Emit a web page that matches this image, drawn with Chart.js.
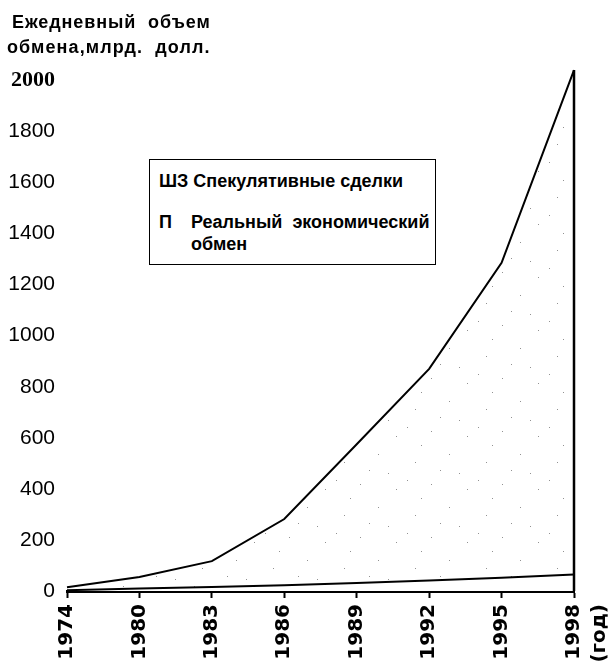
<!DOCTYPE html>
<html>
<head>
<meta charset="utf-8">
<script src="https://cdn.jsdelivr.net/npm/chart.js@4"></script>
<style>
  html, body { margin: 0; padding: 0; background: #fff; }
  #wrap { position: relative; width: 613px; height: 667px; overflow: hidden; }
  canvas { position: absolute; left: 0; top: 0; }
  .t { position: absolute; font-family: "Liberation Sans", Arial, sans-serif; font-weight: bold; font-size: 18px; line-height: 18px; color: #000; white-space: pre; }
  #legend { position: absolute; left: 149px; top: 159px; width: 285px; height: 104px; border: 1.5px solid #000; background: #fff; }
  .l { position: absolute; font-family: "Liberation Sans", Arial, sans-serif; font-weight: bold; font-size: 18px; line-height: 18px; color: #000; white-space: pre; letter-spacing: 0px; }
</style>
</head>
<body>
<div id="wrap">
  <canvas id="c" width="613" height="667"></canvas>
  <div class="t" style="left:12px; top:13px; letter-spacing:0.9px;">Ежедневный  объем</div>
  <div class="t" style="left:7px; top:38px; letter-spacing:1.1px;">обмена,млрд.  долл.</div>
  <div id="legend">
    <div class="l" style="left:9px; top:12px;">ШЗ Спекулятивные сделки</div>
    <div class="l" style="left:9px; top:53px;">П</div>
    <div class="l" style="left:41px; top:53px;">Реальный  экономический</div>
    <div class="l" style="left:41px; top:75px;">обмен</div>
  </div>
</div>
<script>
const years = ['1974', '1980', '1983', '1986', '1989', '1992', '1995', ['1998', '(год)']];
const speculative = [15, 55, 117, 282, 575, 870, 1285, 2040];
const realExchange = [3, 10, 16, 23, 31, 41, 52, 65];
const yTicksMax = 2000;

// sparse, irregular dot pattern for the speculative area
function makePattern() {
  const p = document.createElement('canvas');
  p.width = 71; p.height = 53;
  const g = p.getContext('2d');
  g.fillStyle = 'rgba(110,110,110,0.75)';
  const dots = [[5,7],[41,12],[23,30],[60,38],[14,46],[52,3],[33,49],[66,21]];
  dots.forEach(d => g.fillRect(d[0], d[1], 1, 1));
  return document.getElementById('c').getContext('2d').createPattern(p, 'repeat');
}

const edgePlugin = {
  id: 'edge',
  afterDatasetsDraw(chart) {
    const x = chart.scales.x, y = chart.scales.y;
    const i = years.length - 1;
    const ctx = chart.ctx;
    ctx.save();
    ctx.strokeStyle = '#000';
    ctx.lineWidth = 2.5;
    ctx.beginPath();
    ctx.moveTo(x.getPixelForValue(i), y.getPixelForValue(0));
    ctx.lineTo(x.getPixelForValue(i), y.getPixelForValue(speculative[i]));
    ctx.stroke();
    ctx.restore();
  }
};

new Chart(document.getElementById('c'), {
  type: 'line',
  data: {
    labels: years,
    datasets: [
      {
        label: 'Реальный экономический обмен',
        data: realExchange,
        borderColor: '#000',
        borderWidth: 2,
        pointRadius: 0,
        tension: 0,
        fill: 'origin',
        backgroundColor: '#fff'
      },
      {
        label: 'Спекулятивные сделки',
        data: speculative,
        borderColor: '#000',
        borderWidth: 2,
        pointRadius: 0,
        tension: 0,
        fill: '-1',
        backgroundColor: makePattern()
      }
    ]
  },
  options: {
    responsive: false,
    animation: false,
    events: [],
    layout: { padding: { top: 65, right: 39, left: 0, bottom: 0 } },
    plugins: { legend: { display: false }, tooltip: { enabled: false }, title: { display: false } },
    scales: {
      x: {
        type: 'category',
        offset: false,
        grid: { display: true, drawOnChartArea: false, drawTicks: true, tickLength: 7, tickWidth: 2, tickColor: '#000' },
        border: { display: true, color: '#000', width: 3 },
        ticks: {
          autoSkip: false,
          minRotation: 90,
          maxRotation: 90,
          padding: 6,
          color: '#000',
          font: { family: 'DejaVu Sans', weight: 'bold', size: 20, lineHeight: 1.3 }
        },
        afterFit(s) { s.height = 76; s.paddingLeft = 0; s.paddingRight = 0; }
      },
      y: {
        min: 0,
        max: 2060,
        grid: { display: false, drawTicks: false },
        border: { display: false },
        ticks: {
          stepSize: 200,
          includeBounds: false,
          padding: 12,
          color: '#000',
          callback: (v) => String(v),
          font: (ctx) => (ctx.tick && ctx.tick.value === yTicksMax)
            ? { family: 'Liberation Serif', weight: 'bold', size: 22 }
            : { family: 'Liberation Sans', weight: 'normal', size: 21 }
        },
        afterFit(s) { s.width = 67; s.paddingTop = 0; s.paddingBottom = 0; }
      }
    }
  },
  plugins: [edgePlugin]
});
</script>
</body>
</html>
